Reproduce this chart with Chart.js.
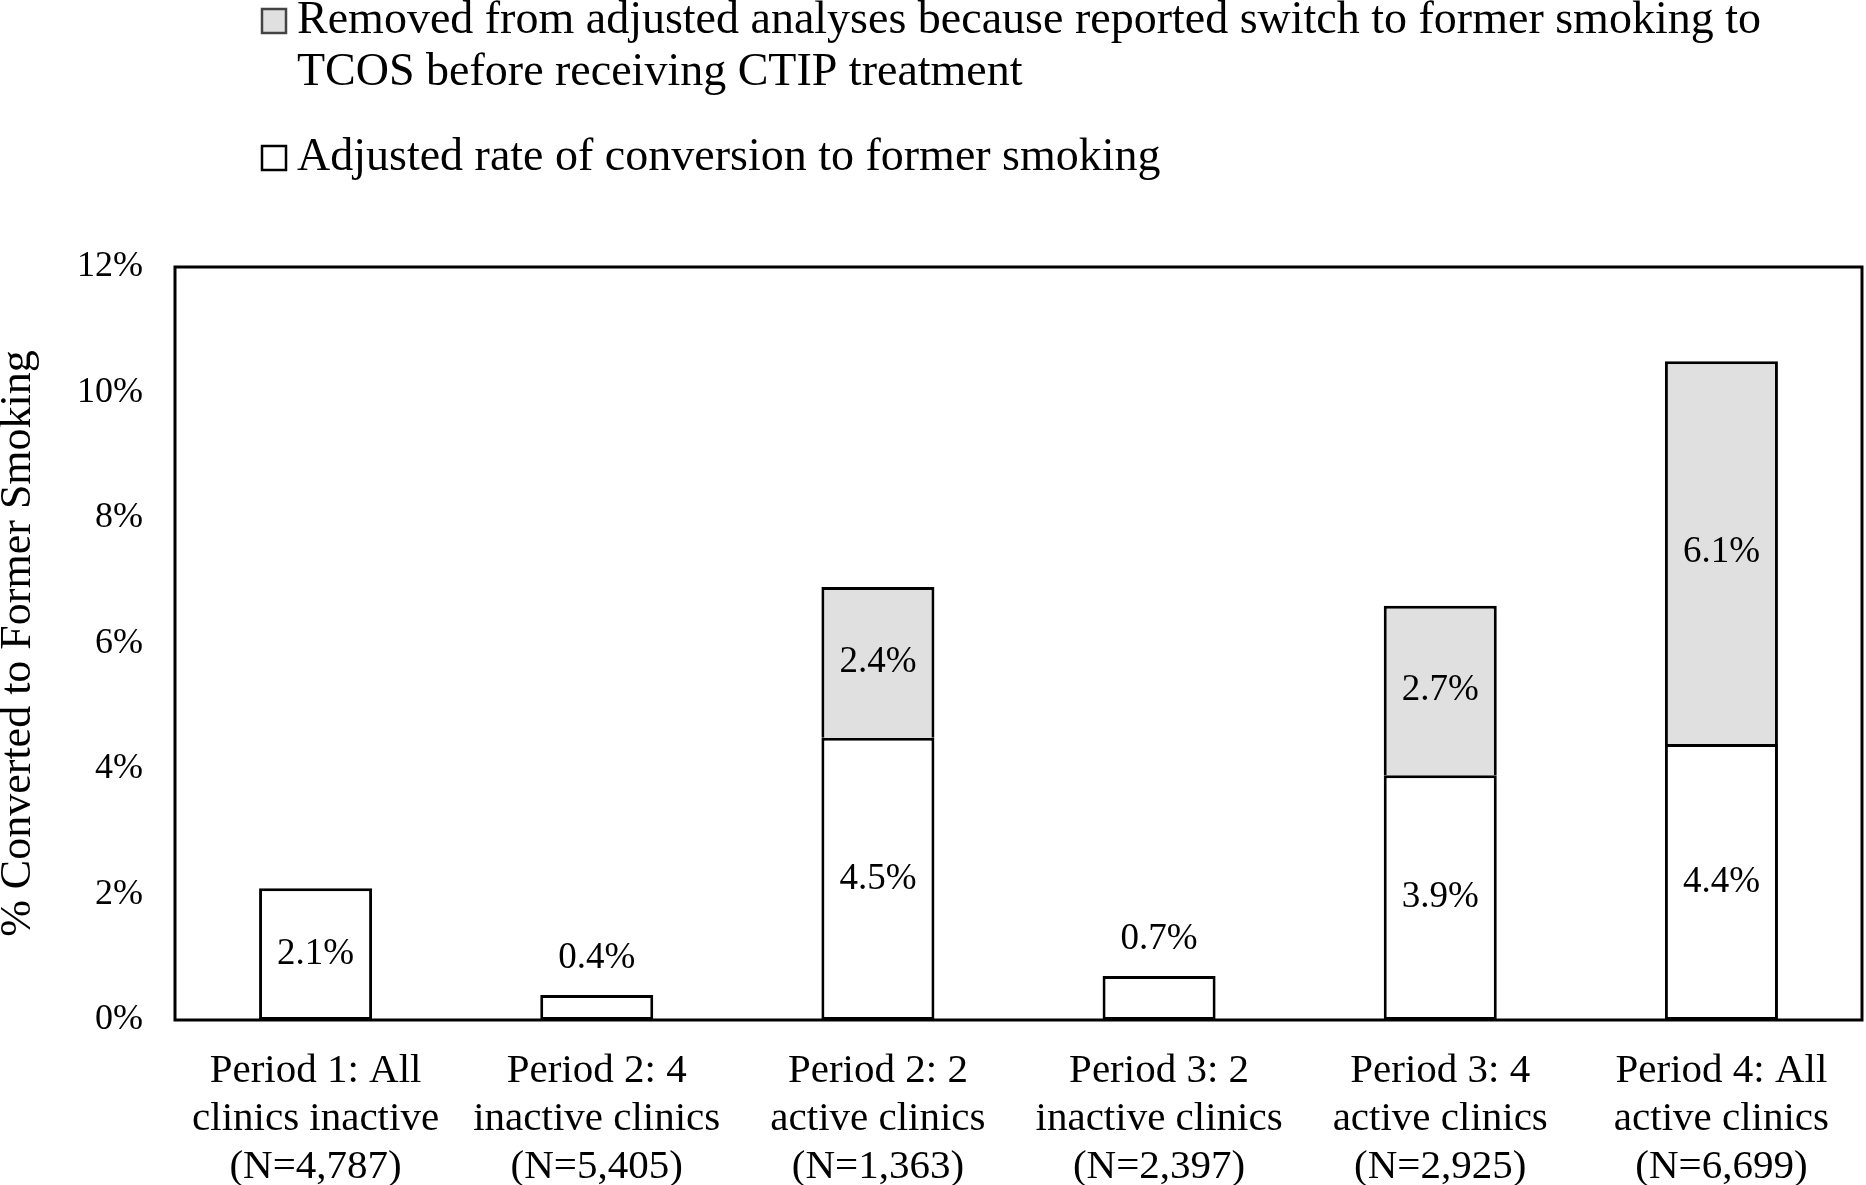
<!DOCTYPE html>
<html>
<head>
<meta charset="utf-8">
<title>Converted to former smoking</title>
<script src="https://cdn.jsdelivr.net/npm/chart.js@4.4.1/dist/chart.umd.min.js"></script>
<style>
  html, body { margin: 0; padding: 0; background: #fff; }
  #wrap { width: 1866px; height: 1185px; position: relative; }
</style>
</head>
<body>
<div id="wrap"><canvas id="grafico"></canvas></div>
<script>
const categorias = [
    ["Period 1: All", "clinics inactive", "(N=4,787)"],
    ["Period 2: 4", "inactive clinics", "(N=5,405)"],
    ["Period 2: 2", "active clinics", "(N=1,363)"],
    ["Period 3: 2", "inactive clinics", "(N=2,397)"],
    ["Period 3: 4", "active clinics", "(N=2,925)"],
    ["Period 4: All", "active clinics", "(N=6,699)"]
]
const ajustado = [2.1, 0.4, 4.5, 0.7, 3.9, 4.4]
const removido = [null, null, 2.4, null, 2.7, 6.1]
const ticksY = [0, 2, 4, 6, 8, 10, 12]

const labelAjustado = "Adjusted rate of conversion to former smoking"
const labelRemovido = ["Removed from adjusted analyses because reported switch to former smoking to", "TCOS before receiving CTIP treatment"]

const fonte = '"Liberation Serif", "Times New Roman", serif'

// moldura em volta da area do grafico
const moldura = {
    id: "moldura",
    afterDraw(chart) {
        const { ctx, chartArea: a } = chart
        ctx.save()
        ctx.strokeStyle = "#000"
        ctx.lineWidth = 3
        ctx.strokeRect(a.left, a.top, a.right - a.left, a.bottom - a.top)
        ctx.restore()
    }
}

// rotulos de valor nas barras
const rotulos = {
    id: "rotulos",
    afterDatasetsDraw(chart) {
        const ctx = chart.ctx
        ctx.save()
        ctx.font = "37px " + fonte
        ctx.fillStyle = "#000"
        ctx.textAlign = "center"
        ctx.textBaseline = "middle"
        chart.data.datasets.forEach((ds, i) => {
            const meta = chart.getDatasetMeta(i)
            meta.data.forEach((bar, j) => {
                const v = ds.data[j]
                if (v == null) return
                const txt = v.toFixed(1) + "%"
                if (i === 0 && v < 1) {
                    ctx.fillText(txt, bar.x, bar.y - 37)
                } else {
                    ctx.fillText(txt, bar.x, (bar.y + bar.base) / 2)
                }
            })
        })
        ctx.restore()
    }
}

// legenda desenhada no topo
const legenda = {
    id: "legenda",
    afterDraw(chart) {
        const ctx = chart.ctx
        const itens = chart.data.datasets.slice().reverse()
        const ys = [21, 158]
        ctx.save()
        ctx.font = "46px " + fonte
        ctx.textBaseline = "middle"
        ctx.textAlign = "left"
        itens.forEach((ds, k) => {
            const y = ys[k]
            ctx.fillStyle = ds.backgroundColor
            ctx.fillRect(262, y - 12, 24, 24)
            ctx.strokeStyle = k === 0 ? "#444" : "#000"
            ctx.lineWidth = 2.5
            ctx.strokeRect(262, y - 12, 24, 24)
            ctx.fillStyle = "#000"
            const linhas = Array.isArray(ds.label) ? ds.label : [ds.label]
            linhas.forEach((l, n) => ctx.fillText(l, 297, y + n * 52))
        })
        ctx.restore()
    }
}

const ctx = document.getElementById("grafico")

new Chart(ctx, {
    type: "bar",
    data: {
        labels: categorias,
        datasets: [{
            label: labelAjustado,
            data: ajustado,
            backgroundColor: "#ffffff",
            borderColor: "#000000",
            borderWidth: 3,
            borderSkipped: false
        }, {
            label: labelRemovido,
            data: removido,
            backgroundColor: "#e0e0e0",
            borderColor: "#000000",
            borderWidth: 3,
            borderSkipped: "bottom"
        }]
    },
    options: {
        responsive: true,
        maintainAspectRatio: false,
        animation: false,
        layout: { padding: { top: 267, right: 4, left: 0, bottom: 0 } },
        datasets: { bar: { categoryPercentage: 0.402, barPercentage: 1 } },
        plugins: {
            legend: { display: false },
            tooltip: { enabled: false }
        },
        scales: {
            x: {
                stacked: true,
                grid: { display: false, drawTicks: false },
                border: { display: false },
                ticks: {
                    color: "#000",
                    font: { family: fonte, size: 41, lineHeight: 1.17 },
                    padding: 27,
                    maxRotation: 0,
                    autoSkip: false
                },
                afterFit(scale) { scale.height = 165 }
            },
            y: {
                stacked: true,
                min: 0,
                max: 12,
                grid: { display: false, drawTicks: false },
                border: { display: false },
                afterBuildTicks(scale) { scale.ticks = ticksY.map(v => ({ value: v })) },
                ticks: {
                    color: "#000",
                    font: { family: fonte, size: 36 },
                    padding: 32,
                    callback: v => v + "%"
                },
                title: {
                    display: true,
                    text: "% Converted to Former Smoking",
                    color: "#000",
                    font: { family: fonte, size: 44, lineHeight: 0.85 },
                    padding: 0
                },
                afterFit(scale) { scale.width = 175 }
            }
        }
    },
    plugins: [moldura, rotulos, legenda]
})
</script>
</body>
</html>
